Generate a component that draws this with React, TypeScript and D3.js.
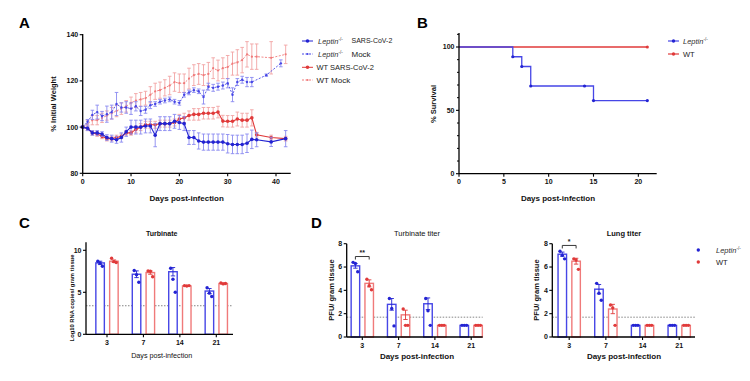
import React from 'react';
import * as d3 from 'd3';

const FONT = "'Liberation Sans', Arial, Helvetica, sans-serif";
const BLUE = '#2323d2';
const BLUE_L = '#4646e6';
const BLUE_E = '#8a8af0';
const RED = '#e03a3a';
const RED_L = '#f07a7a';
const RED_E = '#f2a4a4';

// ---------- Panel A: weight ----------
const daysFull = [0,1,2,3,4,5,6,7,8,9,10,11,12,13,14,15,16,17,18,19,20,21,22,23,24,25,26,27,28,29,30,31,32,33,34,35,36,39,42];
const leptinSarsW = [100,99.5,97.5,97.5,97,95.5,95,94.5,95.5,98,100,100,100,100.5,100.5,96.5,101.5,101.5,101.5,102.5,102,101.5,95.5,95.5,94,93.5,93.5,93.5,93.5,93.5,92.8,92.5,92.5,92.5,93,94.7,94.5,93.6,95];
const leptinSarsE = [0.5,1,1,1,1,1.2,1.5,1.5,2,2,3,3,3,3,3,5,3,3,3,3,3,3,3,3,3.5,3.5,3.5,3.5,3.5,3.5,4,4,4,4,4,4,3,2,3.5];
const wtSarsW = [100,99.5,97.5,97,96,95,95,95.5,96,97.5,97.5,99,100,101,101,101,101.5,101.5,101.5,102,103.5,104,105,105.5,105.5,106,106,106,106.5,102.6,102.5,102.5,103.5,103,103,104,96.7,95.5,95];
const wtSarsE = [0.5,1,1,1,1,1,1,1,1,1,1,1.5,1.5,1.5,1.5,1.5,1.5,1.5,1.5,1.5,2,2,2,2.5,2.5,2.5,2.5,2.5,2.5,2.5,2.5,2.5,3,3,3,3.5,1,1,1];
const wtMockW = [100,101.5,103,103,104,105,106,107,108,109,110.5,111.5,112,112.5,114,115.5,116,117,118,119.5,119,119,121,122.5,123,122.5,123,125.5,124.5,125.5,126,127.5,128,129,131.5,130.5,130.5,130,131.5];
const wtMockE = [0.5,1.5,2,2,2,2,2.5,2.5,2.5,2.5,2.5,3,3,3,3.5,3.5,3.5,3.5,4,4,4,4,4.5,4.5,4.5,4.5,5,4.5,4.5,4.5,5,5,5.5,5.5,5.5,5.5,5.5,7,4];
const daysLeptinMock = [0,1,2,3,4,5,6,7,8,9,10,11,12,13,14,15,16,17,18,19,20,21,22,23,24,25,26,27,28,29,30,31,32,33,34,35,38,41];
const leptinMockW = [100,102.3,105.3,106.5,104.8,105.6,106.5,110,108.5,108.5,108,109,107,107.5,109.5,110,111,111.5,112,111,110.5,114,115,116,115.5,113,117.5,117,117.5,118,119,114,119.5,120.5,119.5,119.5,122.5,127.6];
const leptinMockE = [0.5,1,2,3,2,3.5,3,5,2,2.5,2.5,2,2,1.5,1.5,1,1,1,1,1,1,1,1,1,1,3,1.5,1.5,1.5,1.5,2,3,1.5,1.5,2,2,0.5,1.5];

// ---------- Panel B: survival ----------
const survDaysLeptin = [0,6,7,8,15,21];
const survLeptin = [100,92.3,84.6,69.2,57.7,57.7];
const survMarkDaysLeptin = [6,7,8,14,15,21];
const survMarkLeptin = [92.3,84.6,69.2,69.2,57.7,57.7];
const survDaysWT = [0,21];
const survWT = [100,100];

// ---------- Panels C / D: bars ----------
const barDays = ['3','7','14','21'];

const rnaLeptinMean = [8.5,7.15,7.45,5.15];
const rnaLeptinErr = [0.2,0.4,0.5,0.3];
const rnaLeptinPts = [[8.7,8.45,8.1],[7.6,7.1,6.2],[7.86,6.55,5.0],[5.55,4.9,4.5]];
const rnaWTMean = [8.7,7.35,5.75,6.05];
const rnaWTErr = [0.15,0.2,0.05,0.05];
const rnaWTPts = [[9.05,8.65,8.55],[7.55,7.5,6.85],[5.8,5.75,5.8],[6.1,6.0,6.05]];
const rnaLOD = 3.4;

const turbLeptinMean = [6.1,2.8,2.85,1.0];
const turbLeptinErr = [0.2,0.5,0.5,0];
const turbLeptinPts = [[6.4,6.3,5.6],[3.3,2.45,0.95],[3.3,2.25,1.0],[1,1,1]];
const turbWTMean = [4.6,1.9,1.0,1.0];
const turbWTErr = [0.3,0.4,0,0];
const turbWTPts = [[4.95,4.4,4.05],[2.4,1.0,1.0],[1,1,1],[1,1,1]];

const lungLeptinMean = [7.1,4.1,1.0,1.0];
const lungLeptinErr = [0.18,0.4,0,0];
const lungLeptinPts = [[7.35,7.0,6.7],[4.6,3.75,3.15],[1,1,1],[1,1,1]];
const lungWTMean = [6.5,2.4,1.0,1.0];
const lungWTErr = [0.25,0.4,0,0];
const lungWTPts = [[6.7,6.6,5.8],[2.75,2.5,1.0],[1,1,1],[1,1,1]];
const pfuLOD = 1.7;

const tickFont = { fontFamily: FONT, fontSize: 7, fontWeight: 'bold' as const, fill: '#111' };

function YAxis({ scale, x, ticks, minor = [], top, len = 3 }: any) {
  const y0 = scale.range()[0];
  return (
    <g>
      <line x1={x} x2={x} y1={y0} y2={top} stroke="#000" strokeWidth={1.3} />
      {ticks.map((t: number) => (
        <g key={'t' + t}>
          <line x1={x - len} x2={x} y1={scale(t)} y2={scale(t)} stroke="#000" strokeWidth={1.1} />
          <text x={x - len - 1.5} y={scale(t)} dy="0.35em" textAnchor="end" {...tickFont}>{t}</text>
        </g>
      ))}
      {minor.map((t: number) => (
        <line key={'m' + t} x1={x - 2} x2={x} y1={scale(t)} y2={scale(t)} stroke="#000" strokeWidth={1} />
      ))}
    </g>
  );
}

function XAxisLinear({ scale, y, ticks, x0, x1 }: any) {
  return (
    <g>
      <line x1={x0} x2={x1} y1={y} y2={y} stroke="#000" strokeWidth={1.3} />
      {ticks.map((t: number) => (
        <g key={t}>
          <line x1={scale(t)} x2={scale(t)} y1={y} y2={y + 3} stroke="#000" strokeWidth={1.1} />
          <text x={scale(t)} y={y + 10.5} textAnchor="middle" {...tickFont}>{t}</text>
        </g>
      ))}
    </g>
  );
}

function Series({ xs, ys, es, x, y, color, errColor, dash, r, width }: any) {
  const line = d3.line<number>().x((_, i) => x(xs[i])).y((d) => y(d));
  return (
    <g>
      {ys.map((v: number, i: number) => (
        <g key={i} stroke={errColor} strokeWidth={0.9}>
          <line x1={x(xs[i])} x2={x(xs[i])} y1={y(v - es[i])} y2={y(v + es[i])} />
          <line x1={x(xs[i]) - 1.8} x2={x(xs[i]) + 1.8} y1={y(v - es[i])} y2={y(v - es[i])} />
          <line x1={x(xs[i]) - 1.8} x2={x(xs[i]) + 1.8} y1={y(v + es[i])} y2={y(v + es[i])} />
        </g>
      ))}
      <path d={line(ys) || ''} fill="none" stroke={color} strokeWidth={width} strokeDasharray={dash} />
      {ys.map((v: number, i: number) => (
        <circle key={'c' + i} cx={x(xs[i])} cy={y(v)} r={r} fill={color} />
      ))}
    </g>
  );
}

function LeptinLabel({ x, y, size = 7.5 }: any) {
  return (
    <text x={x} y={y} dy="0.35em" fontFamily={FONT} fontSize={size} fill="#333">
      <tspan fontStyle="italic">Leptin</tspan>
      <tspan fontSize={size * 0.6} dy={-size * 0.4}>-/-</tspan>
    </text>
  );
}

function BarPanel({ cx, x0, x1, y, top, leptinMean, leptinErr, leptinPts, wtMean, wtErr, wtPts, lod, yTicks, sig }: any) {
  const off = 6.9;
  const bw = 8.5;
  const jit = [-2.3, 0, 2.3];
  const groups = [
    { mean: leptinMean, err: leptinErr, pts: leptinPts, color: BLUE_L, dot: BLUE, o: -off },
    { mean: wtMean, err: wtErr, pts: wtPts, color: RED_L, dot: RED, o: off },
  ];
  const base = y(0);
  return (
    <g>
      <line x1={x0} x2={x1} y1={y(lod)} y2={y(lod)} stroke="#777" strokeWidth={0.9} strokeDasharray="1.5,1.5" />
      {groups.map((g, gi) => (
        <g key={gi}>
          {barDays.map((d: string, i: number) => {
            const c = cx(d) + g.o;
            const m = g.mean[i];
            const e = g.err[i];
            return (
              <g key={d}>
                <rect x={c - bw / 2} y={y(m)} width={bw} height={base - y(m)} fill="#fff" stroke={g.color} strokeWidth={1.4} />
                {e > 0 && (
                  <g stroke={g.dot} strokeWidth={0.9}>
                    <line x1={c} x2={c} y1={y(m - e)} y2={y(m + e)} />
                    <line x1={c - 2.2} x2={c + 2.2} y1={y(m + e)} y2={y(m + e)} />
                    <line x1={c - 2.2} x2={c + 2.2} y1={y(m - e)} y2={y(m - e)} />
                  </g>
                )}
                {g.pts[i].map((p: number, k: number) => (
                  <circle key={k} cx={c + jit[k]} cy={y(p)} r={1.7} fill={g.dot} />
                ))}
              </g>
            );
          })}
        </g>
      ))}
      <YAxis scale={y} x={x0} ticks={yTicks} top={top} />
      <line x1={x0} x2={x1} y1={base} y2={base} stroke="#000" strokeWidth={1.3} />
      {barDays.map((d: string) => (
        <g key={d}>
          <line x1={cx(d)} x2={cx(d)} y1={base} y2={base + 3} stroke="#000" strokeWidth={1.1} />
          <text x={cx(d)} y={base + 11} textAnchor="middle" {...tickFont}>{d}</text>
        </g>
      ))}
      {sig && (
        <g>
          <path d={`M${cx('3') - off},${y(sig.v) + 3}V${y(sig.v)}H${cx('3') + off}V${y(sig.v) + 3}`} fill="none" stroke="#222" strokeWidth={0.9} />
          <text x={cx('3')} y={y(sig.v) - 1.5} textAnchor="middle" fontFamily={FONT} fontSize={7} fontWeight="bold" fill="#222">{sig.label}</text>
        </g>
      )}
    </g>
  );
}

export default function App() {
  // Panel A scales
  const xA = d3.scaleLinear().domain([0, 40]).range([82.7, 276]);
  const yA = d3.scaleLinear().domain([80, 140]).range([173.3, 34.7]);
  // Panel B scales
  const xB = d3.scaleLinear().domain([0, 21]).range([459, 647.3]);
  const yB = d3.scaleLinear().domain([0, 100]).range([173.7, 47]);
  // Panel C
  const xC = d3.scalePoint<string>().domain(barDays).range([107, 216.3]);
  const yC = d3.scaleLinear().domain([0, 10]).range([334.3, 250.3]);
  // Panel D
  const xD1 = d3.scalePoint<string>().domain(barDays).range([362.3, 471.2]);
  const xD2 = d3.scalePoint<string>().domain(barDays).range([569.2, 679.2]);
  const yD = d3.scaleLinear().domain([0, 8]).range([337, 243.7]);

  const step = d3.line<number>().curve(d3.curveStepAfter);
  const blueSurv = step(survLeptin.map((v, i) => [xB(survDaysLeptin[i]), yB(v)] as any) as any);
  const redSurv = step(survWT.map((v, i) => [xB(survDaysWT[i]), yB(v)] as any) as any);

  const lbl = { fontFamily: FONT, fontSize: 8, fontWeight: 'bold' as const, fill: '#111' };
  const letter = { fontFamily: FONT, fontSize: 15, fontWeight: 'bold' as const, fill: '#000' };

  const legA = [
    { color: BLUE, dash: undefined, r: 1.8, y: 41, kind: 'lep', rest: 'SARS-CoV-2' },
    { color: BLUE_L, dash: '2,1.5', r: 1.1, y: 54, kind: 'lep', rest: 'Mock' },
    { color: RED, dash: undefined, r: 1.8, y: 67.3, kind: 'wt', rest: 'WT SARS-CoV-2' },
    { color: RED_L, dash: '2,1.5', r: 1.1, y: 80, kind: 'wt', rest: 'WT Mock' },
  ];

  return (
    <svg width={750} height={381} style={{ position: 'absolute', left: 0, top: 0, background: '#fff' }}>
      <rect width={750} height={381} fill="#fff" />
      {/* Letters */}
      <text x={19} y={28} {...letter}>A</text>
      <text x={417} y={28} {...letter}>B</text>
      <text x={19} y={228} {...letter}>C</text>
      <text x={311} y={228} {...letter}>D</text>

      {/* ---------- Panel A ---------- */}
      <g>
        <Series xs={daysFull} ys={wtMockW} es={wtMockE} x={xA} y={yA} color={RED_L} errColor={RED_E} dash="2,1.5" r={1.1} width={0.9} />
        <Series xs={daysLeptinMock} ys={leptinMockW} es={leptinMockE} x={xA} y={yA} color={BLUE_L} errColor={BLUE_E} dash="2,1.5" r={1.2} width={0.9} />
        <Series xs={daysFull} ys={wtSarsW} es={wtSarsE} x={xA} y={yA} color={RED} errColor={RED_E} r={1.8} width={1.1} />
        <Series xs={daysFull} ys={leptinSarsW} es={leptinSarsE} x={xA} y={yA} color={BLUE} errColor={BLUE_E} r={1.8} width={1.1} />
        <YAxis scale={yA} x={82.7} ticks={[80, 100, 120, 140]} top={34} />
        <XAxisLinear scale={xA} y={173.3} ticks={[0, 10, 20, 30, 40]} x0={82.7} x1={290.7} />
        <text x={186.7} y={201} textAnchor="middle" {...lbl}>Days post-infection</text>
        <text transform="translate(56,104) rotate(-90)" textAnchor="middle" {...lbl} fontSize={7.5}>% Initial Weight</text>
        {legA.map((l, i) => (
          <g key={i}>
            <line x1={302} x2={313} y1={l.y} y2={l.y} stroke={l.color} strokeWidth={1} strokeDasharray={l.dash} />
            <circle cx={307.5} cy={l.y} r={l.r} fill={l.color} />
            {l.kind === 'lep' ? (
              <g>
                <LeptinLabel x={318} y={l.y} size={7.5} />
                <text x={351.5} y={l.y} dy="0.35em" fontFamily={FONT} fontSize={i === 0 ? 7 : 8} fill="#222">{l.rest}</text>
              </g>
            ) : (
              <text x={316.5} y={l.y} dy="0.35em" fontFamily={FONT} fontSize={i === 2 ? 7.5 : 8} fill="#222">{l.rest}</text>
            )}
          </g>
        ))}
      </g>

      {/* ---------- Panel B ---------- */}
      <g>
        <path d={redSurv || ''} fill="none" stroke={RED} strokeWidth={1.3} />
        <path d={blueSurv || ''} fill="none" stroke={BLUE_L} strokeWidth={1.3} />
        {survMarkLeptin.map((v, i) => (
          <circle key={i} cx={xB(survMarkDaysLeptin[i])} cy={yB(v)} r={1.6} fill={BLUE} />
        ))}
        <circle cx={xB(21)} cy={yB(100)} r={1.6} fill={RED} />
        <YAxis scale={yB} x={459} ticks={[0, 50, 100]} minor={[10, 20, 30, 40, 60, 70, 80, 90, 110]} top={33} />
        <XAxisLinear scale={xB} y={173.7} ticks={[0, 5, 10, 15, 20]} x0={459} x1={656.7} />
        <text x={558} y={201} textAnchor="middle" {...lbl}>Days post-infection</text>
        <text transform="translate(436,104) rotate(-90)" textAnchor="middle" {...lbl} fontSize={7.5}>% Survival</text>
        <line x1={668} x2={679} y1={41} y2={41} stroke={BLUE_L} strokeWidth={1.2} />
        <circle cx={673.5} cy={41} r={1.7} fill={BLUE} />
        <LeptinLabel x={683} y={41} size={7.5} />
        <line x1={668} x2={679} y1={54} y2={54} stroke={RED} strokeWidth={1.2} />
        <circle cx={673.5} cy={54} r={1.7} fill={RED} />
        <text x={683} y={54} dy="0.35em" fontFamily={FONT} fontSize={7.5} fill="#222">WT</text>
      </g>

      {/* ---------- Panel C ---------- */}
      <g>
        <BarPanel cx={xC} x0={86} x1={233} y={yC} top={242.3} leptinMean={rnaLeptinMean} leptinErr={rnaLeptinErr} leptinPts={rnaLeptinPts}
          wtMean={rnaWTMean} wtErr={rnaWTErr} wtPts={rnaWTPts} lod={rnaLOD} yTicks={[0, 5, 10]} />
        <text x={161.7} y={235.5} textAnchor="middle" {...lbl} fontSize={7}>Turbinate</text>
        <text x={161.7} y={358} textAnchor="middle" fontFamily={FONT} fontSize={7.2} fill="#111">Days post-infection</text>
        <text transform="translate(74,298) rotate(-90)" textAnchor="middle" {...lbl} fontSize={5.8}>Log10 RNA copies/ gram tissue</text>
      </g>

      {/* ---------- Panel D ---------- */}
      <g>
        <BarPanel cx={xD1} x0={346.7} x1={482.7} y={yD} top={243.7} leptinMean={turbLeptinMean} leptinErr={turbLeptinErr} leptinPts={turbLeptinPts}
          wtMean={turbWTMean} wtErr={turbWTErr} wtPts={turbWTPts} lod={pfuLOD} yTicks={[0, 2, 4, 6, 8]} sig={{ v: 6.9, label: '**' }} />
        <text x={417} y={236} textAnchor="middle" fontFamily={FONT} fontSize={7.5} fill="#111">Turbinate titer</text>
        <text x={417} y={358.5} textAnchor="middle" {...lbl}>Days post-infection</text>
        <text transform="translate(333.5,290) rotate(-90)" textAnchor="middle" {...lbl} fontSize={7.5}>PFU/ gram tissue</text>

        <BarPanel cx={xD2} x0={552.3} x1={695} y={yD} top={243.7} leptinMean={lungLeptinMean} leptinErr={lungLeptinErr} leptinPts={lungLeptinPts}
          wtMean={lungWTMean} wtErr={lungWTErr} wtPts={lungWTPts} lod={pfuLOD} yTicks={[0, 2, 4, 6, 8]} sig={{ v: 7.85, label: '*' }} />
        <text x={624} y={236} textAnchor="middle" {...lbl} fontSize={7.5}>Lung titer</text>
        <text x={624} y={358.5} textAnchor="middle" {...lbl}>Days post-infection</text>
        <text transform="translate(539,290) rotate(-90)" textAnchor="middle" {...lbl} fontSize={7.5}>PFU/ gram tissue</text>

        <circle cx={698.3} cy={250} r={1.7} fill={BLUE} />
        <LeptinLabel x={716} y={250} size={7.5} />
        <circle cx={698.3} cy={262} r={1.7} fill={RED} />
        <text x={716} y={262} dy="0.35em" fontFamily={FONT} fontSize={7.5} fill="#222">WT</text>
      </g>
    </svg>
  );
}
